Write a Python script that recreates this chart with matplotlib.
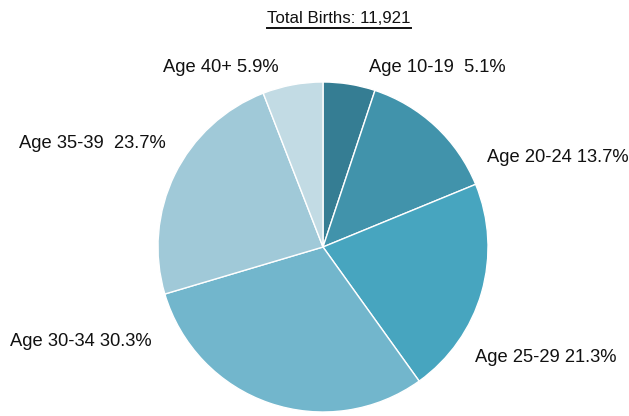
import matplotlib

matplotlib.use("Agg")
import matplotlib.pyplot as plt
from matplotlib.lines import Line2D

plt.rcParams["font.family"] = ["Liberation Sans", "DejaVu Sans"]

TITLE = "Total Births: 11,921"
AGE_GROUPS = ["Age 10-19", "Age 20-24", "Age 25-29", "Age 30-34", "Age 35-39", "Age 40+"]
SHARES = [5.1, 13.7, 21.3, 30.3, 23.7, 5.9]
LABEL_GAPS = ["  ", " ", " ", " ", "  ", " "]
COLORS = ["#357D93", "#4193AB", "#47A5BF", "#72B6CC", "#A0C9D8", "#C2DBE4"]

# label anchor positions in pixels (left x, centre y)
LABEL_POS = [(369, 68), (487, 157), (475, 357), (10, 341), (19, 143), (163, 68)]

W, H = 629, 416
fig = plt.figure(figsize=(W / 100, H / 100), dpi=100)

cx, cy, r = 323, 247, 165
ax = fig.add_axes([(cx - r) / W, (H - cy - r) / H, 2 * r / W, 2 * r / H])
ax.pie(
    SHARES,
    colors=COLORS,
    startangle=90,
    counterclock=False,
    radius=1.0,
    wedgeprops={"edgecolor": "white", "linewidth": 1.0},
)
ax.set_xlim(-1, 1)
ax.set_ylim(-1, 1)
ax.set_aspect("equal")
ax.axis("off")

for name, share, gap, (px, py) in zip(AGE_GROUPS, SHARES, LABEL_GAPS, LABEL_POS):
    fig.text(px / W, 1 - py / H, f"{name}{gap}{share:.1f}%", fontsize=13.2,
             ha="left", va="center", color="#111111")

title = fig.text(339 / W, 1 - 18.5 / H, TITLE, fontsize=12.2, ha="center", va="center", color="#111111")

fig.canvas.draw()
bb = title.get_window_extent().transformed(fig.transFigure.inverted())
fig.add_artist(Line2D([bb.x0, bb.x1], [bb.y0 - 1.5 / H, bb.y0 - 1.5 / H],
                      transform=fig.transFigure, color="#111111", linewidth=1.4))

fig.savefig("out.png", dpi=100)
